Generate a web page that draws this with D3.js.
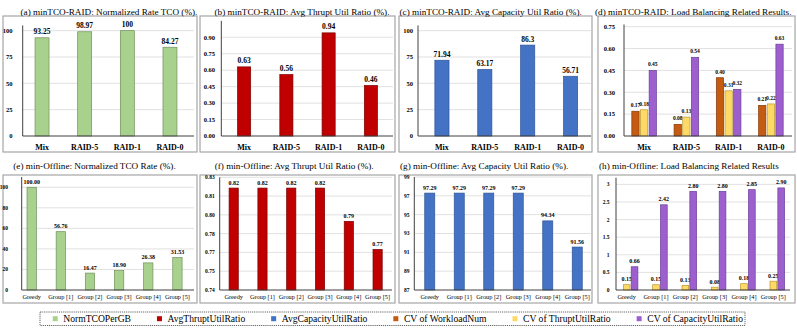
<!DOCTYPE html>
<html><head><meta charset="utf-8">
<script src="https://cdn.jsdelivr.net/npm/d3@7"></script>
<style>
html,body{margin:0;padding:0;background:#fff;}
svg{display:block;}
</style></head>
<body><svg id="c" width="797" height="329" font-family="'Liberation Serif', 'Times New Roman', Times, serif"></svg>
<script>
// ---------------- DATA ----------------
const raidCats = ["Mix", "RAID-5", "RAID-1", "RAID-0"];
const offCats = ["Greedy", "Group [1]", "Group [2]", "Group [3]", "Group [4]", "Group [5]"];

const tcoRaid = [93.25, 98.97, 100, 84.27];
const thruptRaid = [0.63, 0.56, 0.94, 0.46];
const capRaid = [71.94, 63.17, 86.3, 56.71];
const cvWorkloadRaid = [0.17, 0.08, 0.40, 0.21];
const cvThruptRaid = [0.18, 0.13, 0.31, 0.22];
const cvCapRaid = [0.45, 0.54, 0.32, 0.63];

const tcoOff = [100.00, 56.76, 16.47, 18.90, 26.38, 31.53];
const thruptOff = [0.8214, 0.8214, 0.8214, 0.8214, 0.7948, 0.7724];
const capOff = [97.29, 97.29, 97.29, 97.29, 94.34, 91.56];
const cvWorkloadOff = [null, null, null, null, null, null];
const cvThruptOff = [0.15, 0.15, 0.13, 0.08, 0.18, 0.25];
const cvCapOff = [0.66, 2.42, 2.80, 2.80, 2.85, 2.90];

const ticksA = [0, 25, 50, 75, 100];
const tickLabelsA = ["0", "25", "50", "75", "100"];
const ticksB = [0, 0.15, 0.30, 0.45, 0.60, 0.75, 0.90];
const tickLabelsB = ["0.00", "0.15", "0.30", "0.45", "0.60", "0.75", "0.90"];
const ticksD = [0, 0.15, 0.30, 0.45, 0.60, 0.75];
const tickLabelsD = ["0.00", "0.15", "0.30", "0.45", "0.60", "0.75"];
const ticksE = [0, 20, 40, 60, 80, 100];
const tickLabelsE = ["0", "20", "40", "60", "80", "100"];
const ticksF = [0.74, 0.755, 0.77, 0.785, 0.80, 0.815, 0.83];
const tickLabelsF = ["0.74", "0.75", "0.77", "0.78", "0.80", "0.81", "0.83"];
const ticksG = [87, 89, 91, 93, 95, 97, 99];
const tickLabelsG = ["87", "89", "91", "93", "95", "97", "99"];
const ticksH = [0, 0.5, 1, 1.5, 2, 2.5, 3];
const tickLabelsH = ["0", "0.5", "1", "1.5", "2", "2.5", "3"];

const seriesNames = ["NormTCOPerGB", "AvgThruptUtilRatio", "AvgCapacityUtilRatio",
  "CV of WorkloadNum", "CV of ThruptUtilRatio", "CV of CapacityUtilRatio"];

const titles = [
  "(a) minTCO-RAID: Normalized Rate TCO (%).",
  "(b) minTCO-RAID: Avg Thrupt Util Ratio (%).",
  "(c) minTCO-RAID: Avg Capacity Util Ratio (%).",
  "(d) minTCO-RAID: Load Balancing Related Results.",
  "(e) min-Offline: Normalized TCO Rate (%).",
  "(f) min-Offline: Avg Thrupt Util Ratio (%).",
  "(g) min-Offline: Avg Capacity Util Ratio (%).",
  "(h) min-Offline: Load Balancing Related Results"
];

// ---------------- STYLE ----------------
const fills = ["#a9d18e", "#c00000", "#4472c4", "#c55a11", "#ffd966", "#9e5fce"];
const strokes = ["#6f8f5c", "#7a0000", "#2f5597", "#843c0c", "#b8962e", "#6a3d9a"];
const fmt2 = v => v.toFixed(2);
const fmtRaw = v => String(v);

const panels = [
  {title: titles[0], tx: 20.5, cats: raidCats, series: [{d: tcoRaid, s: 0}], dom: [0, 105], ticks: ticksA, tl: tickLabelsA, fmt: fmtRaw,
   box: [3, 197, 16, 152], ax: 22.7, br: [20.7, 191.3], yb: 136, yt: 25.4, tr: 12.5, ge: 194, p0: 0.672, row: 1, vf: 7.5, tf: 6.5, lo: 3.5},
  {title: titles[1], tx: 214.5, cats: raidCats, series: [{d: thruptRaid, s: 1}], dom: [0, 1.05], ticks: ticksB, tl: tickLabelsB, fmt: fmtRaw,
   box: [200, 395, 16, 152], ax: 221.3, br: [223, 392], yb: 136, yt: 20.8, tr: 215, ge: 393, p0: 0.69, row: 1, vf: 7.5, tf: 6.5, lo: 3.5},
  {title: titles[2], tx: 399.5, cats: raidCats, series: [{d: capRaid, s: 2}], dom: [0, 105], ticks: ticksA, tl: tickLabelsA, fmt: fmtRaw,
   box: [399, 592, 16, 152], ax: 418, br: [420.5, 592], yb: 136, yt: 25.4, tr: 413, ge: 591, p0: 0.67, row: 1, vf: 7.5, tf: 6.5, lo: 3.5},
  {title: titles[3], tx: 595, cats: raidCats, series: [{d: cvWorkloadRaid, s: 3}, {d: cvThruptRaid, s: 4}, {d: cvCapRaid, s: 5}], dom: [0, 0.765], ticks: ticksD, tl: tickLabelsD, fmt: fmt2,
   box: [598, 795, 16, 152], ax: 624, br: [623, 792], yb: 136, yt: 24.5, tr: 615, ge: 792, p0: 0.385, q: 0.16, row: 1, vf: 5.5, tf: 6.5, lo: 4},
  {title: titles[4], tx: 13.3, cats: offCats, series: [{d: tcoOff, s: 0}], dom: [0, 110], ticks: ticksE, tl: tickLabelsE, fmt: fmt2,
   box: [3, 197, 175, 303], ax: 21.7, br: [17.1, 192], yb: 290, yt: 177, tr: 8, ge: 194, p0: 0.68, row: 2, vf: 6, tf: 5.5, lo: 3.5},
  {title: titles[5], tx: 214.7, cats: offCats, series: [{d: thruptOff, s: 1}], dom: [0.74, 0.83], ticks: ticksF, tl: tickLabelsF, fmt: fmt2,
   box: [200, 395, 175, 303], ax: 219.7, br: [219.3, 392], yb: 290, yt: 177.3, tr: 214.7, ge: 392, p0: 0.68, row: 2, vf: 6, tf: 5.5, lo: 3.5},
  {title: titles[6], tx: 400, cats: offCats, series: [{d: capOff, s: 2}], dom: [87, 99], ticks: ticksG, tl: tickLabelsG, fmt: fmt2,
   box: [399, 592, 175, 303], ax: 414.3, br: [415, 592], yb: 290, yt: 177, tr: 409.5, ge: 591, p0: 0.66, row: 2, vf: 6, tf: 5.5, lo: 3.5},
  {title: titles[7], tx: 599, cats: offCats, series: [{d: cvWorkloadOff, s: 3}, {d: cvThruptOff, s: 4}, {d: cvCapOff, s: 5}], dom: [0, 3.19], ticks: ticksH, tl: tickLabelsH, fmt: fmt2,
   box: [598, 795, 175, 303], ax: 616, br: [612, 788], yb: 290, yt: 177.7, tr: 609.5, ge: 790, p0: 0.195, q: 0.15, row: 2, vf: 6, tf: 5.5, lo: 3.5}
];

const svg = d3.select("#c");

panels.forEach(P => {
  const g = svg.append("g");
  const [bx0, bx1, by0, by1] = P.box;
  g.append("rect").attr("x", bx0).attr("y", by0).attr("width", bx1 - bx0).attr("height", by1 - by0)
    .attr("fill", "none").attr("stroke", "#a6a6a6").attr("stroke-width", 1.2);
  g.append("text").attr("x", P.tx).attr("y", P.row === 1 ? 14.5 : 168.7)
    .attr("text-anchor", "start").attr("font-size", 9.2).attr("fill", "#000").text(P.title);

  const y = d3.scaleLinear().domain(P.dom).range([P.yb, P.yt]);
  const x0 = d3.scaleBand().domain(P.cats).range(P.br).paddingInner(P.p0).paddingOuter(P.p0 / 2);

  g.selectAll("line.grid").data(P.ticks.slice(1)).join("line")
    .attr("x1", P.ax).attr("x2", P.ge).attr("y1", d => y(d)).attr("y2", d => y(d))
    .attr("stroke", "#d9d9d9").attr("stroke-width", 0.8);
  g.selectAll("text.tick").data(P.ticks).join("text")
    .attr("x", P.tr).attr("y", d => y(d)).attr("dy", "0.35em")
    .attr("text-anchor", "end").attr("font-size", P.tf).attr("font-weight", "bold").attr("fill", "#000")
    .text((d, i) => P.tl[i]);

  const names = P.series.map(s => s.s);
  const x1 = d3.scaleBand().domain(names).range([0, x0.bandwidth()])
    .paddingInner(P.q || 0).paddingOuter((P.q || 0) / 2);
  P.series.forEach(S => {
    const data = P.cats.map((c, i) => ({c, v: S.d[i]})).filter(o => o.v !== null);
    const gx = d => x0(d.c) + x1(S.s);
    g.selectAll(null).data(data).join("rect")
      .attr("x", gx).attr("width", x1.bandwidth())
      .attr("y", d => y(d.v)).attr("height", d => y(P.dom[0]) - y(d.v))
      .attr("fill", fills[S.s]).attr("stroke", strokes[S.s]).attr("stroke-width", 0.7);
    g.selectAll(null).data(data).join("text")
      .attr("x", d => gx(d) + x1.bandwidth() / 2).attr("y", d => y(d.v) - P.lo)
      .attr("text-anchor", "middle").attr("font-size", P.vf).attr("font-weight", "bold").attr("fill", "#000")
      .text(d => P.fmt(d.v));
  });

  g.append("line").attr("x1", P.ax).attr("x2", P.ax).attr("y1", P.yt).attr("y2", P.yb)
    .attr("stroke", "#404040").attr("stroke-width", 1);
  g.append("line").attr("x1", P.ax).attr("x2", P.ge).attr("y1", P.yb).attr("y2", P.yb)
    .attr("stroke", "#404040").attr("stroke-width", 1);

  g.selectAll("text.cat").data(P.cats).join("text")
    .attr("x", d => x0(d) + x0.bandwidth() / 2).attr("y", P.row === 1 ? 149.5 : 298.5)
    .attr("text-anchor", "middle")
    .attr("font-size", P.row === 1 ? 8 : 6.3).attr("font-weight", P.row === 1 ? "bold" : "normal")
    .attr("fill", "#000").text(d => d);
});

// legend
const lg = svg.append("g");
lg.append("rect").attr("x", 40).attr("y", 312).attr("width", 705).attr("height", 13.5)
  .attr("fill", "none").attr("stroke", "#555").attr("stroke-width", 0.9).attr("stroke-dasharray", "1.2,0.9");
const legStart = 52.7, legEnd = 743, mk = 10.6;
const items = seriesNames.map((n, i) => {
  const t = lg.append("text").attr("y", 322).attr("font-size", 9.6).attr("fill", "#000").text(n);
  return {t, w: t.node().getComputedTextLength(), i};
});
const totalW = d3.sum(items, d => d.w + mk);
const gap = (legEnd - legStart - totalW) / (items.length - 1);
let lx = legStart;
items.forEach(it => {
  lg.append("rect").attr("x", lx).attr("y", 316.2).attr("width", 5).attr("height", 5).attr("fill", fills[it.i]);
  it.t.attr("x", lx + mk);
  lx += mk + it.w + gap;
});
</script>
</body></html>
